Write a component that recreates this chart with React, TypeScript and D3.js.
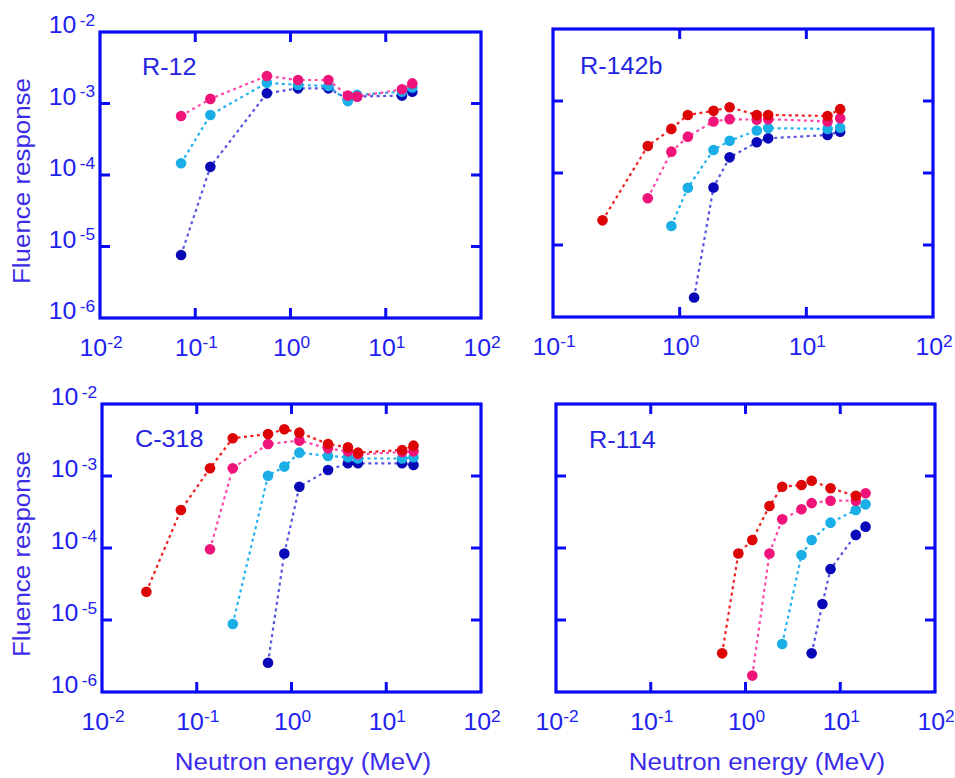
import React from "react";
import * as d3 from "d3";

// ---------- DATA ----------
const panelNames = ["R-12", "R-142b", "C-318", "R-114"];
const seriesKeys = ["navy", "cyan", "pink", "red"];

// R-12
const r12Energy = [0.071, 0.144, 0.565, 1.2, 2.5, 4.0, 5.0, 14.8, 19.0];
const r12Navy = [7.6e-6, 1.3e-4, 1.39e-3, 1.63e-3, 1.63e-3, 1.15e-3, 1.25e-3, 1.29e-3, 1.46e-3];
const r12Cyan = [1.46e-4, 6.9e-4, 1.95e-3, 1.82e-3, 1.76e-3, 1.08e-3, 1.32e-3, 1.46e-3, 1.68e-3];
const r12Pink = [6.7e-4, 1.16e-3, 2.43e-3, 2.13e-3, 2.13e-3, 1.29e-3, 1.25e-3, 1.58e-3, 1.91e-3];
const r12Red: (number | null)[] = [null, null, null, null, null, null, null, null, null];

// R-142b
const r142Energy = [0.246, 0.56, 0.86, 1.16, 1.3, 1.85, 2.48, 4.06, 5.0, 14.7, 18.5];
const r142Navy = [null, null, null, null, 1.87e-6, 6.3e-5, 1.65e-4, 2.67e-4, 3.03e-4, 3.37e-4, 3.75e-4];
const r142Cyan = [null, null, 1.84e-5, 6.25e-5, null, 2.09e-4, 2.8e-4, 3.9e-4, 4.2e-4, 4.1e-4, 4.25e-4];
const r142Pink = [null, 4.45e-5, 1.98e-4, 3.2e-4, null, 5.2e-4, 5.6e-4, 5.5e-4, 5.6e-4, 5.2e-4, 5.75e-4];
const r142Red = [2.2e-5, 2.37e-4, 4.1e-4, 6.4e-4, null, 7.3e-4, 8.2e-4, 6.4e-4, 6.4e-4, 6.2e-4, 7.7e-4];

// C-318
const c318Energy = [0.0294, 0.068, 0.138, 0.24, 0.565, 0.84, 1.21, 2.43, 3.94, 5.03, 14.7, 19.4];
const c318Navy = [null, null, null, null, 2.55e-6, 8.4e-5, 7.1e-4, 1.21e-3, 1.5e-3, 1.5e-3, 1.5e-3, 1.42e-3];
const c318Cyan = [null, null, null, 8.8e-6, 1.01e-3, 1.35e-3, 2.11e-3, 1.9e-3, 1.82e-3, 1.75e-3, 1.75e-3, 1.82e-3];
const c318Pink = [null, null, 9.6e-5, 1.28e-3, 2.78e-3, null, 3.1e-3, 2.42e-3, 2.2e-3, 2.0e-3, 2.15e-3, 2.2e-3];
const c318Red = [2.47e-5, 3.37e-4, 1.28e-3, 3.34e-3, 3.83e-3, 4.45e-3, 4.0e-3, 2.78e-3, 2.5e-3, 2.11e-3, 2.3e-3, 2.64e-3];

// R-114
const r114Energy = [0.567, 0.84, 1.18, 1.79, 2.44, 3.9, 4.99, 6.48, 7.9, 14.6, 18.5];
const r114Navy = [null, null, null, null, null, null, 3.44e-6, 1.67e-5, 5.1e-5, 1.52e-4, 1.98e-4];
const r114Cyan = [null, null, null, null, 4.64e-6, 8.0e-5, 1.29e-4, null, 2.25e-4, 3.37e-4, 4.04e-4];
const r114Pink = [null, null, 1.69e-6, 8.4e-5, 2.5e-4, 3.45e-4, 4.2e-4, null, 4.54e-4, 4.54e-4, 5.75e-4];
const r114Red = [3.44e-6, 8.4e-5, 1.29e-4, 3.83e-4, 7.1e-4, 7.5e-4, 8.6e-4, null, 6.75e-4, 5.3e-4, null];

const yTickExps = [-6, -5, -4, -3, -2];
const xTickExpsWide = [-2, -1, 0, 1, 2];
const xTickExpsNarrow = [-1, 0, 1, 2];

const xAxisTitle = "Neutron energy (MeV)";
const yAxisTitle = "Fluence response";

// ---------- STYLE / LAYOUT ----------
const W = 955;
const H = 778;
const FRAME = "#0a0af5";
const TEXT = "#2020f0";
const TITLE = "#3a2ce8";
const STRETCH = 1.08;
const markerColor: Record<string, string> = {
  navy: "#0808b8",
  cyan: "#1aaee6",
  pink: "#f0147a",
  red: "#dc0404",
};
const lineColor: Record<string, string> = {
  navy: "#5656e2",
  cyan: "#22b2f0",
  pink: "#ff48aa",
  red: "#f02020",
};

const panelData = [
  { energy: r12Energy, series: [r12Navy, r12Cyan, r12Pink, r12Red] },
  { energy: r142Energy, series: [r142Navy, r142Cyan, r142Pink, r142Red] },
  { energy: c318Energy, series: [c318Navy, c318Cyan, c318Pink, c318Red] },
  { energy: r114Energy, series: [r114Navy, r114Cyan, r114Pink, r114Red] },
];

const layouts = [
  { x0: 100, x1: 481, y0: 32, y1: 318, xExps: xTickExpsWide, yLabels: true, xTitle: false, nameX: 142, nameY: 75, titleCx: 0 },
  { x0: 553, x1: 933, y0: 29, y1: 317, xExps: xTickExpsNarrow, yLabels: false, xTitle: false, nameX: 580, nameY: 74, titleCx: 0 },
  { x0: 102, x1: 481, y0: 404, y1: 692, xExps: xTickExpsWide, yLabels: true, xTitle: true, nameX: 135, nameY: 447, titleCx: 303 },
  { x0: 556, x1: 935, y0: 404, y1: 692, xExps: xTickExpsWide, yLabels: false, xTitle: true, nameX: 589, nameY: 448, titleCx: 757 },
];

function Panel({ idx }: { idx: number }) {
  const L = layouts[idx];
  const D = panelData[idx];
  const xExps = L.xExps;
  const x = d3
    .scaleLog()
    .domain([Math.pow(10, xExps[0]), Math.pow(10, xExps[xExps.length - 1])])
    .range([L.x0, L.x1]);
  const y = d3.scaleLog().domain([1e-6, 1e-2]).range([L.y1, L.y0]);
  const line = d3
    .line<[number, number]>()
    .x((d) => x(d[0]))
    .y((d) => y(d[1]));
  const tickLen = 10;

  return (
    <g>
      {D.series.map((vals, si) => {
        const pts: [number, number][] = [];
        vals.forEach((v, i) => {
          if (v != null) pts.push([D.energy[i], v as number]);
        });
        const key = seriesKeys[si];
        return (
          <g key={key}>
            <path
              d={line(pts) || ""}
              fill="none"
              stroke={lineColor[key]}
              strokeWidth={2.2}
              strokeDasharray="3,3.5"
            />
            {pts.map((p, i) => (
              <circle key={i} cx={x(p[0])} cy={y(p[1])} r={5.3} fill={markerColor[key]} />
            ))}
          </g>
        );
      })}
      <rect
        x={L.x0}
        y={L.y0}
        width={L.x1 - L.x0}
        height={L.y1 - L.y0}
        fill="none"
        stroke={FRAME}
        strokeWidth={3.2}
      />
      {xExps.slice(1, -1).map((e) => {
        const px = x(Math.pow(10, e));
        return (
          <g key={"xt" + e}>
            <line x1={px} x2={px} y1={L.y1} y2={L.y1 - tickLen} stroke={FRAME} strokeWidth={3} />
            <line x1={px} x2={px} y1={L.y0} y2={L.y0 + tickLen} stroke={FRAME} strokeWidth={3} />
          </g>
        );
      })}
      {yTickExps.slice(1, -1).map((e) => {
        const py = y(Math.pow(10, e));
        return (
          <g key={"yt" + e}>
            <line x1={L.x0} x2={L.x0 + tickLen} y1={py} y2={py} stroke={FRAME} strokeWidth={3} />
            <line x1={L.x1} x2={L.x1 - tickLen} y1={py} y2={py} stroke={FRAME} strokeWidth={3} />
          </g>
        );
      })}
      {xExps.map((e) => (
        <text
          key={"xl" + e}
          transform={`translate(${x(Math.pow(10, e)) + 1},${L.y1 + 38}) scale(${STRETCH},1)`}
          textAnchor="middle"
          fill={TEXT}
          fontSize={23}
        >
          <tspan>10</tspan>
          <tspan fontSize={16} dy={-8}>
            {String(e)}
          </tspan>
        </text>
      ))}
      {L.yLabels &&
        yTickExps.map((e) => (
          <text
            key={"yl" + e}
            transform={`translate(${L.x0 - 5},${y(Math.pow(10, e)) + 1}) scale(${STRETCH},1)`}
            textAnchor="end"
            fill={TEXT}
            fontSize={23}
          >
            <tspan>10</tspan>
            <tspan fontSize={16} dx={3} dy={-7.5}>
              {String(e)}
            </tspan>
          </text>
        ))}
      <text
        transform={`translate(${L.nameX},${L.nameY}) scale(1.05,1)`}
        fill="#2424e0"
        fontSize={24}
      >
        {panelNames[idx]}
      </text>
      {L.yLabels && (
        <text
          transform={`translate(30,${(L.y0 + L.y1) / 2 + 6}) rotate(-90) scale(${STRETCH},1)`}
          textAnchor="middle"
          fill={TITLE}
          fontSize={24}
        >
          {yAxisTitle}
        </text>
      )}
      {L.xTitle && (
        <text
          transform={`translate(${L.titleCx},770) scale(${STRETCH},1)`}
          textAnchor="middle"
          fill={TITLE}
          fontSize={24}
        >
          {xAxisTitle}
        </text>
      )}
    </g>
  );
}

export default function App() {
  return (
    <svg
      width={W}
      height={H}
      viewBox={`0 0 ${W} ${H}`}
      style={{ position: "absolute", left: 0, top: 0, background: "#fff" }}
      fontFamily="'Liberation Sans', Arial, sans-serif"
    >
      <rect x={0} y={0} width={W} height={H} fill="#fff" />
      {layouts.map((_, i) => (
        <Panel key={i} idx={i} />
      ))}
    </svg>
  );
}
